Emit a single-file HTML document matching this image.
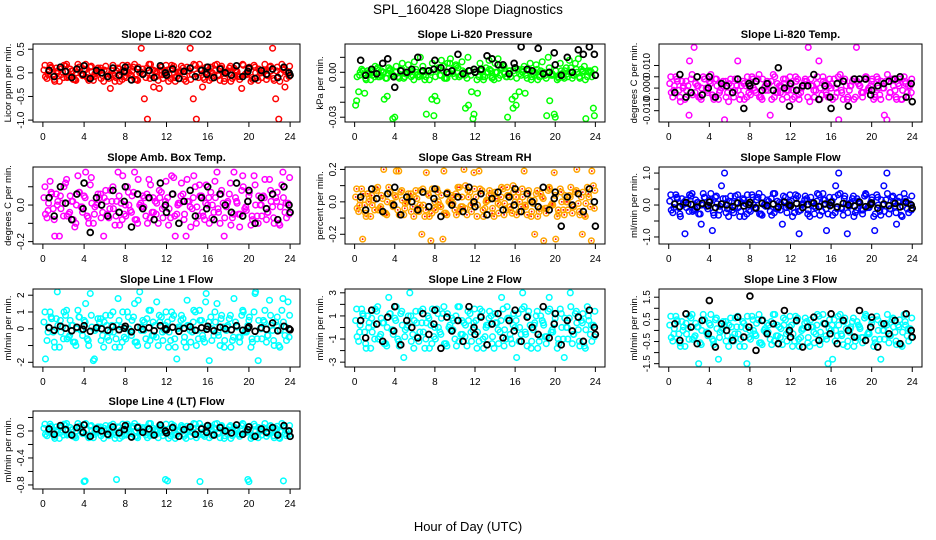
<!DOCTYPE html>
<html><head><meta charset="utf-8"><style>
html,body{margin:0;padding:0;background:#fff}
svg{display:block;font-family:"Liberation Sans",sans-serif}
</style></head><body>
<svg id="chart" width="936" height="540" viewBox="0 0 936 540">
<text x="468" y="14" text-anchor="middle" font-size="13.5">SPL_160428  Slope Diagnostics</text>
<text x="468" y="531" text-anchor="middle" font-size="13">Hour of Day (UTC)</text>
</svg>
<script>
const hours=[0.1,0.4,0.7,1.0,1.3,1.6,1.9,2.2,2.5,2.8,3.1,3.4,3.7,4.0,4.3,4.6,4.9,5.2,5.5,5.8,6.1,6.4,6.7,7.0,7.3,7.6,7.9,8.2,8.5,8.8,9.1,9.4,9.7,10.0,10.3,10.6,10.9,11.2,11.5,11.8,12.1,12.4,12.7,13.0,13.3,13.6,13.9,14.2,14.5,14.8,15.1,15.4,15.7,16.0,16.3,16.6,16.9,17.2,17.5,17.8,18.1,18.4,18.7,19.0,19.3,19.6,19.9,20.2,20.5,20.8,21.1,21.4,21.7,22.0,22.3,22.6,22.9,23.2,23.5,23.8];
const hoursB=[11.35,11.65,11.95,12.25,12.55,12.85,13.15,13.45,13.75,14.05,14.35,14.65,14.95,15.25,15.55,15.85,16.15,16.45,16.75,17.05,17.35,17.65,17.95,18.25,18.55,18.85,19.15,19.45,19.75,20.05,20.35,20.65,20.95,21.25,21.55,21.85,22.15,22.45,22.75,23.05,23.35,23.65,23.95,0.25,0.55,0.85,1.15,1.45,1.75,2.05,2.35,2.65,2.95,3.25,3.55,3.85,4.15,4.45,4.75,5.05,5.35,5.65,5.95,6.25,6.55,6.85,7.15,7.45,7.75,8.05,8.35,8.65,8.95,9.25,9.55,9.85,10.15,10.45,10.75,11.05];
const hoursC=[16.1,16.4,16.7,17.0,17.3,17.6,17.9,18.2,18.5,18.8,19.1,19.4,19.7,20.0,20.3,20.6,20.9,21.2,21.5,21.8,22.1,22.4,22.7,23.0,23.3,23.6,23.9,0.2,0.5,0.8,1.1,1.4,1.7,2.0,2.3,2.6,2.9,3.2,3.5,3.8,4.1,4.4,4.7,5.0,5.3,5.6,5.9,6.2,6.5,6.8,7.1,7.4,7.7,8.0,8.3,8.6,8.9,9.2,9.5,9.8,10.1,10.4,10.7,11.0,11.3,11.6,11.9,12.2,12.5,12.8,13.1,13.4,13.7,14.0,14.3,14.6,14.9,15.2,15.5,15.8];
const blackHours=[0.6,1.1,1.7,2.2,2.8,3.3,3.9,4.0,4.6,5.2,5.7,6.3,6.8,7.4,7.9,8.0,8.6,9.2,9.7,10.3,10.8,11.4,11.9,12.0,12.6,13.2,13.7,14.3,14.8,15.4,15.9,16.0,16.6,17.2,17.7,18.3,18.8,19.4,19.9,20.0,20.6,21.2,21.7,22.3,22.8,23.4,23.9,24.0];
const xTicks=[0,4,8,12,16,20,24];

const co2=[0.06,-0.12,0.16,-0.04,0.1,-0.18,0.02,0.14,-0.08,0.04,-0.14,0.18,-0.02,0.08,-0.1,0.12,-0.16,0,0.06,-0.06,0.14,-0.12,0.04,-0.18,0.1,0.02,-0.08,0.16,-0.04,0.12,-0.14,0,0.08,-0.1,0.18,-0.06,0.04,-0.16,0.12,-0.02,0.06,-0.12,0.14,-0.08,0.02,0.1,-0.18,0.04,-0.04,0.16,-0.1,0.08,-0.14,0,0.12,-0.06,0.18,-0.16,0.02,-0.02,0.1,-0.12,0.06,-0.08,-0.33,-0.04,0.04,-0.18,0.16,-0.1,0,0.04,-0.14,0.12,0.52,-0.55,-0.98,0.18,-0.3,0.02];
const co2Black=[0.05,-0.08,0.12,0.03,-0.1,0.08,-0.03,0.15,-0.12,0.05,0,-0.08,0.1,-0.05,0.03,0.12,-0.15,0.08,-0.03,0.05,-0.1,0.15,0,-0.05,0.08,-0.12,0.03,0.1,-0.08,0.05,-0.03,0.12,-0.1,0.08,0,-0.05,0.15,-0.08,0.03,0.1,-0.12,0.05,-0.03,0.08,-0.1,0.12,0,-0.05];

const pressure=[-0.022,-0.013,0.002,-0.014,0.001,-0.005,0,0.002,-0.003,0,-0.004,0.003,-0.001,-0.030,-0.003,0.001,-0.004,-0.001,0,-0.002,0.002,-0.003,0,-0.005,0.001,0,-0.029,-0.019,-0.002,0.001,-0.004,-0.001,0.001,-0.003,0.003,-0.002,0,-0.004,0.001,-0.031,0,-0.003,0.002,-0.003,0,0.001,-0.005,0,-0.002,0.004,-0.003,0.001,-0.018,-0.016,0.002,-0.002,0.004,-0.004,0.006,-0.001,0.005,-0.003,0.007,-0.002,0.01,-0.002,-0.028,-0.005,0.006,-0.003,0.003,0.008,-0.004,0.006,0.009,0.002,0.004,-0.003,0.001,-0.024];
const pressureBlack=[0.008,-0.002,0.002,-0.001,0.006,0.009,-0.003,-0.010,0.001,0,0.002,0.01,0.001,0.001,0.002,0.008,0.003,0,0.001,0.012,-0.001,0.001,0.002,0,0.002,0.011,0.009,0.005,0.005,-0.001,0.006,0.003,0.017,0.002,0.001,0.016,-0.001,0,0.013,0.005,-0.002,0.010,0,0.015,0.012,0.017,0.012,-0.002];

const licorTemp=[0.002,-0.004,0.005,-0.001,0.003,-0.005,0.001,0.004,0.018,0.001,-0.004,0.005,0,0.003,-0.003,0.004,-0.005,0,-0.014,-0.002,0.004,-0.004,0.001,-0.005,0.003,0.001,-0.002,0.005,-0.001,0.004,-0.004,0,0.003,-0.012,0.006,-0.002,0.001,-0.005,0.004,-0.001,0.002,-0.004,0.004,-0.002,0.001,0.003,-0.006,0.001,-0.001,0.012,-0.003,0.002,-0.004,0,0.004,-0.002,0.006,-0.005,0.001,-0.001,0.003,-0.004,0.002,-0.002,0.004,-0.001,0.001,-0.005,0.005,-0.003,0,0.003,-0.004,0.004,-0.001,0.002,-0.005,0.005,-0.002,0.001];
const licorTempBlack=[-0.002,0.006,-0.004,-0.002,0.005,-0.003,0,0.005,-0.004,0.002,0.001,-0.002,0.004,-0.009,0.002,0.001,0.003,-0.001,0.002,-0.001,0.009,0,-0.008,0.002,-0.001,0.001,0.001,0.006,-0.005,0.001,-0.004,-0.009,0.002,0.003,-0.008,0.004,0.004,0.004,-0.003,-0.001,0.001,0.002,0.003,0.004,0.005,-0.004,0.002,-0.006];

const ambTemp=[0.04,-0.07,0.13,-0.02,0.06,-0.17,0.01,0.12,-0.05,0.02,-0.12,0.16,-0.01,0.05,-0.06,0.11,-0.10,0,0.04,-0.04,0.08,-0.07,0.02,-0.11,0.18,0.01,-0.05,0.10,-0.03,0.07,-0.08,0,0.05,-0.06,0.14,-0.04,0.02,-0.10,0.07,-0.01,0.04,-0.07,0.15,-0.05,0.01,0.06,-0.17,0.02,-0.02,0.10,-0.06,0.05,-0.08,0,0.07,-0.04,0.18,-0.10,0.01,-0.01,0.06,-0.07,0.04,-0.05,0.08,-0.02,0.02,-0.11,0.16,-0.06,0,0.05,-0.08,0.14,-0.01,0.04,-0.10,0.11,-0.04,0.01];
const ambTempBlack=[0.04,-0.06,0.1,0.01,-0.08,0.06,-0.02,0.12,-0.15,0.04,0,-0.06,0.08,-0.04,0.02,0.1,-0.12,0.06,-0.02,0.04,-0.08,0.12,0,-0.04,0.06,-0.1,0.02,0.08,-0.06,0.04,-0.02,0.1,-0.08,0.06,0,-0.04,0.12,-0.06,0.02,0.08,-0.1,0.04,-0.02,0.06,-0.08,0.1,0,-0.04];

const gasRH=[0.03,-0.06,0.08,-0.02,0.05,-0.09,0.01,0.07,-0.04,0.02,-0.07,0.09,-0.01,0.04,-0.05,0.06,-0.08,0,0.03,-0.03,0.07,-0.06,-0.20,-0.09,0.05,-0.24,-0.04,0.08,-0.02,-0.23,-0.07,0,0.04,-0.05,0.09,-0.03,0.2,-0.08,0.06,-0.01,0.03,0.19,0.07,-0.04,0.01,0.05,-0.09,0.02,-0.02,0.08,-0.05,0.04,-0.07,0,0.06,-0.03,0.19,-0.08,0.01,-0.01,0.05,-0.06,0.03,-0.04,0.07,-0.02,0.18,-0.09,0.08,-0.05,0,0.04,-0.07,0.06,-0.01,0.03,-0.08,0.09,-0.03,0.1];
const gasRHBlack=[0.03,-0.05,0.08,0.02,-0.06,0.05,-0.02,0.09,-0.08,0.03,0,-0.05,0.06,-0.03,0.02,0.08,-0.09,0.05,-0.02,0.03,-0.06,0.09,0,-0.03,0.05,-0.08,0.02,0.06,-0.05,0.03,-0.02,0.08,-0.06,0.05,0,-0.03,0.09,-0.05,0.02,0.06,-0.15,0.03,-0.02,0.05,-0.06,0.08,0,-0.15];

const sampleFlow=[0.12,-0.24,0.32,-0.08,0.2,-0.9,0.04,0.28,-0.16,0.08,-0.28,0.36,-0.04,0.16,-0.8,0.24,-0.32,0.6,1.0,-0.12,0.28,-0.24,0.08,-0.36,0.2,0.04,-0.16,0.32,-0.08,0.24,-0.28,0,0.16,-0.2,0.36,-0.12,0.08,-0.6,0.24,-0.04,0.12,-0.24,0.28,-0.16,0.04,0.2,-0.36,0.08,-0.08,0.32,-0.2,0.16,-0.28,0,0.24,-0.12,0.36,-0.32,0.04,-0.04,0.2,-0.24,0.12,-0.16,0.28,-0.08,0.08,-0.36,0.32,-0.2,0,0.16,-0.28,0.24,-0.04,0.12,-0.32,0.36,-0.12,0.04];
const sampleFlowBlack=[0.03,-0.05,0.08,0.02,-0.06,0.05,-0.02,0.09,-0.08,0.03,0,-0.05,0.06,-0.03,0.02,0.08,-0.09,0.05,-0.02,0.03,-0.06,0.09,0,-0.03,0.05,-0.08,0.02,0.06,-0.05,0.03,-0.02,0.08,-0.06,0.05,0,-0.03,0.09,-0.05,0.02,0.06,-0.1,0.03,-0.02,0.05,-0.06,0.08,0,-0.1];

const line1Flow=[0.4,-0.7,1.0,-0.2,0.6,-1.1,0.1,0.8,-0.5,0.2,-0.8,1.1,-0.1,0.5,-0.6,2.1,-1.9,0,0.4,-0.4,0.8,-0.7,0.2,-1.1,1.8,0.1,-0.5,1.0,-0.2,0.7,-0.8,2.2,0.5,-0.6,1.1,-0.4,0.2,-1.0,0.7,-0.1,0.4,-0.7,0.8,-1.8,0.1,0.6,-1.1,0.2,-0.2,1.0,-0.6,0.5,-0.8,0,0.7,-0.4,1.5,-1.0,0.1,-0.1,0.6,-0.7,0.4,-0.5,0.8,-0.2,0.2,-1.1,1.0,-0.6,0,0.5,-0.8,1.7,-0.1,0.4,-1.0,1.1,-0.4,1.6];
const line1FlowBlack=[0.06,-0.09,0.15,0.03,-0.12,0.09,-0.03,0.18,-0.15,0.06,0,-0.09,0.12,-0.06,0.03,0.15,-0.18,0.09,-0.03,0.06,-0.12,0.18,0,-0.06,0.09,-0.15,0.03,0.12,-0.09,0.06,-0.03,0.15,-0.12,0.09,0,-0.06,0.18,-0.09,0.03,0.12,-0.15,0.06,-0.03,0.35,-0.12,0.15,0,-0.06];

const line2Flow=[0.6,-1.2,1.6,-0.4,1.0,-1.8,0.2,1.4,-0.8,0.4,-1.4,2.6,-0.2,0.8,-1.0,1.2,-2.6,0,3.0,-0.6,1.4,-1.2,0.4,-1.8,1.0,0.2,-0.8,1.6,-0.4,1.2,-1.4,0,0.8,-1.0,1.8,-0.6,0.4,-1.6,1.2,-0.2,0.6,-1.2,1.4,-0.8,0.2,1.0,-1.8,0.4,-0.4,1.6,-1.0,0.8,-1.4,0,1.2,-0.6,1.8,-1.6,0.2,-0.2,1.0,-1.2,0.6,-0.8,1.4,-0.4,0.4,-1.8,1.6,-1.0,0,0.8,-1.4,1.2,-0.2,0.6,-1.6,1.8,-0.6,0.2];
const line2FlowBlack=[0.6,-0.9,1.5,0.3,-1.2,0.9,-0.3,1.8,-1.5,0.6,0,-0.9,1.2,-0.6,0.3,1.5,-1.8,0.9,-0.3,0.6,-1.2,1.8,0,-0.6,0.9,-1.5,0.3,1.2,-0.9,0.6,-0.3,1.5,-1.2,0.9,0,-0.6,1.8,-0.9,0.3,1.2,-1.5,0.6,-0.3,0.9,-1.2,1.5,0,-0.6];

const line3Flow=[0.24,-0.48,0.64,-0.16,0.4,-0.72,0.08,0.56,-0.32,0.16,-0.56,0.72,-0.08,0.32,-0.4,0.48,-1.3,0,0.24,-0.24,0.56,-0.48,0.16,-0.72,0.4,0.08,-0.32,0.64,-0.16,0.48,-0.56,0,0.32,-0.4,0.72,-0.24,0.16,-0.64,0.48,-0.08,0.24,-0.48,0.56,-0.32,0.08,0.4,-0.72,0.16,-0.16,0.64,-0.4,0.32,-1.5,0,0.48,-0.24,0.72,-0.64,0.08,-0.08,0.4,-0.48,0.24,-0.32,0.56,-0.16,0.16,-0.72,0.64,-0.4,0,0.32,-0.56,0.48,-0.08,0.24,-0.64,0.72,-0.24,0.08];
const line3FlowBlack=[0.3,-0.45,0.75,0.15,-0.6,0.45,-0.15,1.35,-0.75,0.3,0,-0.45,0.6,-0.3,0.15,1.55,-0.9,0.45,-0.15,0.3,-0.6,0.9,0,-0.3,0.45,-0.75,0.15,0.6,-0.45,0.3,-0.15,0.75,-0.6,0.45,0,-0.3,0.9,-0.45,0.15,0.6,-0.75,0.3,-0.15,0.45,-0.6,0.75,0,-0.3];

const line4Flow=[0.04,-0.07,0.1,-0.02,0.06,-0.11,0.01,0.08,-0.05,0.02,-0.08,0.11,-0.01,-0.75,-0.06,0.07,-0.1,0,0.04,-0.04,0.08,-0.07,0.02,-0.11,0.06,0.01,-0.05,0.1,-0.02,0.07,-0.08,0,0.05,-0.06,0.11,-0.04,0.02,-0.1,0.07,-0.01,-0.74,-0.07,0.08,-0.05,0.01,0.06,-0.11,0.02,-0.02,0.1,-0.06,0.05,-0.08,0,0.07,-0.04,0.11,-0.1,0.01,-0.01,0.06,-0.07,0.04,-0.05,0.08,-0.02,-0.72,-0.11,0.1,-0.06,0,0.05,-0.08,0.07,-0.01,0.04,-0.1,0.11,-0.04,0.01];
const line4FlowBlack=[0.03,-0.05,0.08,0.02,-0.06,0.05,-0.02,0.09,-0.08,0.03,0,-0.05,0.06,-0.03,0.02,0.08,-0.09,0.05,-0.02,0.03,-0.06,0.09,0,-0.03,0.05,-0.08,0.02,0.06,-0.05,0.03,-0.02,0.08,-0.06,0.05,0,-0.03,0.09,-0.05,0.02,0.06,-0.08,0.03,-0.02,0.05,-0.06,0.08,0,-0.08];

const co2Ticks=[-1.0,-0.5,0.0,0.5], co2Labels=["-1.0","-0.5","0.0","0.5"];
const pressTicks=[-0.03,-0.02,-0.01,0.00,0.01], pressLabels=["-0.03","","","0.00",""];
const tempTicks=[-0.010,-0.005,0.000,0.005,0.010], tempLabels=["-0.010","","0.000","","0.010"];
const ambTicks=[-0.2,-0.1,0.0,0.1], ambLabels=["-0.2","","0.0",""];
const rhTicks=[-0.2,-0.1,0.0,0.1,0.2], rhLabels=["-0.2","","0.0","","0.2"];
const sampleTicks=[-1.0,-0.5,0.0,0.5,1.0], sampleLabels=["-1.0","","0.0","","1.0"];
const l1Ticks=[-2,-1,0,1,2], l1Labels=["-2","","0","1","2"];
const l2Ticks=[-3,-2,-1,0,1,2,3], l2Labels=["-3","","-1","","1","","3"];
const l3Ticks=[-1.5,-1.0,-0.5,0.0,0.5,1.0,1.5], l3Labels=["-1.5","","-0.5","","0.5","","1.5"];
const l4Ticks=[-0.8,-0.6,-0.4,-0.2,0.0,0.2], l4Labels=["-0.8","","-0.4","","0.0",""];

const cols=[[33,300],[345,605],[659,922]];
const rows=[[44,122],[167,244],[289,367],[411,489]];
const panels=[
 {t:"Slope Li-820 CO2",yl:"Licor ppm per min.",c:0,r:0,ylim:[-1.04,0.61],d:co2,b:co2Black,col:"#ff0000",tk:co2Ticks,lb:co2Labels},
 {t:"Slope Li-820 Pressure",yl:"kPa per min.",c:1,r:0,ylim:[-0.0332,0.0189],d:pressure,b:pressureBlack,col:"#00ff00",tk:pressTicks,lb:pressLabels},
 {t:"Slope Li-820 Temp.",yl:"degrees C per min.",c:2,r:0,ylim:[-0.015,0.0195],d:licorTemp,b:licorTempBlack,col:"#ff00ff",tk:tempTicks,lb:tempLabels},
 {t:"Slope Amb. Box Temp.",yl:"degrees C per min.",c:0,r:1,ylim:[-0.213,0.208],d:ambTemp,b:ambTempBlack,col:"#ff00ff",tk:ambTicks,lb:ambLabels},
 {t:"Slope Gas Stream RH",yl:"percent per min.",c:1,r:1,ylim:[-0.26,0.215],d:gasRH,b:gasRHBlack,col:"#ffa500",dot:"#ff0000",tk:rhTicks,lb:rhLabels},
 {t:"Slope Sample Flow",yl:"ml/min per min.",c:2,r:1,ylim:[-1.22,1.19],d:sampleFlow,b:sampleFlowBlack,col:"#0000ff",tk:sampleTicks,lb:sampleLabels},
 {t:"Slope Line 1 Flow",yl:"ml/min per min.",c:0,r:2,ylim:[-2.28,2.37],d:line1Flow,b:line1FlowBlack,col:"#00ffff",tk:l1Ticks,lb:l1Labels},
 {t:"Slope Line 2 Flow",yl:"ml/min per min.",c:1,r:2,ylim:[-3.42,3.33],d:line2Flow,b:line2FlowBlack,col:"#00ffff",tk:l2Ticks,lb:l2Labels},
 {t:"Slope Line 3 Flow",yl:"ml/min per min.",c:2,r:2,ylim:[-1.65,1.87],d:line3Flow,b:line3FlowBlack,col:"#00ffff",tk:l3Ticks,lb:l3Labels},
 {t:"Slope Line 4 (LT) Flow",yl:"ml/min per min.",c:0,r:3,ylim:[-0.86,0.296],d:line4Flow,b:line4FlowBlack,col:"#00ffff",tk:l4Ticks,lb:l4Labels}
];
const NS="http://www.w3.org/2000/svg";
const svg=document.getElementById('chart');
function mk(tag,attrs,parent){const e=document.createElementNS(NS,tag);for(const k in attrs)e.setAttribute(k,attrs[k]);(parent||svg).appendChild(e);return e;}
panels.forEach((p,pi)=>{
 const [x0,x1]=cols[p.c],[y0,y1]=rows[p.r];
 const xs=h=>x0+(h+0.96)/25.92*(x1-x0);
 const ys=v=>y1-(v-p.ylim[0])/(p.ylim[1]-p.ylim[0])*(y1-y0);
 const g=mk('g',{});
 
 
 const tt=mk('text',{x:(x0+x1)/2,y:y0-6,'text-anchor':'middle','font-size':11,'font-weight':'bold'},g);tt.textContent=p.t;
 
 
 const clip=mk('clipPath',{id:'cl'+pi},g);mk('rect',{x:x0,y:y0,width:x1-x0,height:y1-y0},clip);
 const pts=mk('g',{'clip-path':'url(#cl'+pi+')'},g);
 [hours,hoursB,hoursC].forEach(hx=>{
  p.d.forEach((v,i)=>{const c=mk('circle',{cx:xs(hx[i]),cy:ys(v),r:2.8,fill:'none',stroke:p.col,'stroke-width':1.5},pts);
   
   
   if(p.dot){const dd=mk('circle',{cx:xs(hx[i]),cy:ys(v),r:0.9,fill:p.dot},pts);
    
    }
  });
 });
 p.b.forEach((v,i)=>{const c=mk('circle',{cx:xs(blackHours[i]),cy:ys(v),r:2.9,fill:'none',stroke:'#000','stroke-width':1.8},pts);
  
  });
 const box=mk('rect',{x:x0,y:y0,width:x1-x0,height:y1-y0,fill:'none',stroke:'#000','stroke-width':1},g);
 
 
 mk('line',{x1:xs(0),x2:xs(24),y1:y1,y2:y1,stroke:'#000'},g);
 xTicks.forEach(t=>{mk('line',{x1:xs(t),x2:xs(t),y1:y1,y2:y1+5,stroke:'#000'},g);
  const l=mk('text',{x:xs(t),y:y1+18,'text-anchor':'middle','font-size':10},g);l.textContent=t;
  
  });
 p.tk.forEach((t,i)=>{const y=ys(t);mk('line',{x1:x0-5,x2:x0,y1:y,y2:y,stroke:'#000'},g);
  if(p.lb[i]){const l=mk('text',{x:x0-9,y:y,'text-anchor':'middle','font-size':10,transform:`rotate(-90 ${x0-9} ${y})`},g);l.textContent=p.lb[i];
  
  }});
 const yx=x0-22,ym=(y0+y1)/2;
 const yt=mk('text',{x:yx,y:ym,'text-anchor':'middle','font-size':9.5,transform:`rotate(-90 ${yx} ${ym})`},g);yt.textContent=p.yl;
 
 
});
</script>
</body></html>
